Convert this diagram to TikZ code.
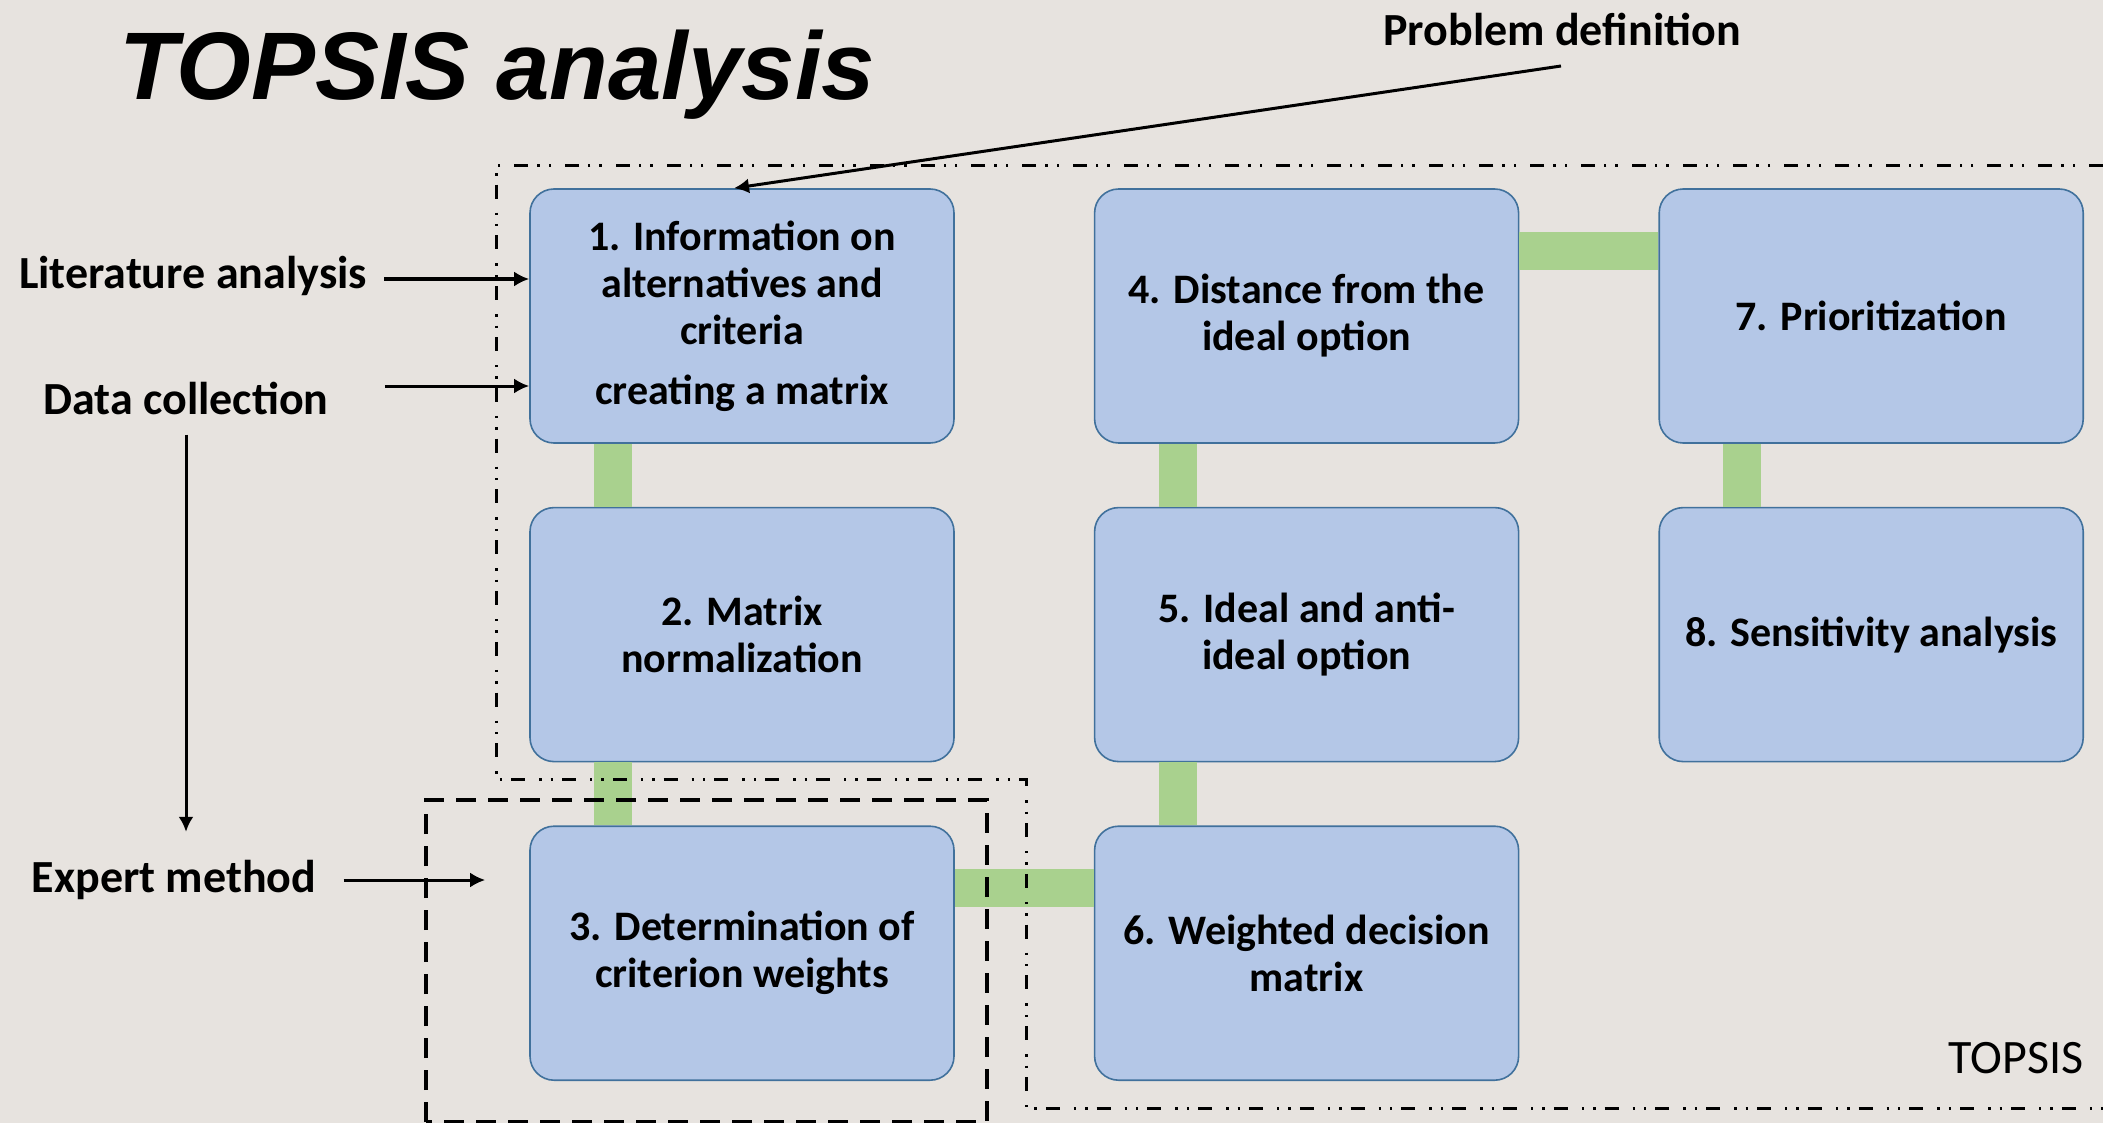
\documentclass[tikz,border=0pt]{standalone}
\usepackage{fontspec}
\setmainfont{Carlito}
\newfontfamily\titlefont{Liberation Sans}
\usepackage{tikz}
\usetikzlibrary{positioning, arrows.meta}
\usepackage{xcolor}
\definecolor{slidebg}{RGB}{231,227,223}
\definecolor{boxfill}{RGB}{180,199,231}
\definecolor{boxline}{RGB}{65,113,156}
\definecolor{linkgreen}{RGB}{169,209,142}

\begin{document}
\begin{tikzpicture}[x=0.5pt, y=-0.5pt,
		node distance=31.5pt and 69.5pt,
		stepbox/.style={draw=boxline, line width=0.8pt, fill=boxfill, rounded corners=12pt,
			minimum width=212pt, minimum height=127pt, inner sep=0pt, align=center,
			font=\fontsize{21}{23.5}\selectfont\bfseries},
		sidelabel/.style={inner sep=0pt, font=\fontsize{23}{27}\selectfont\bfseries},
		link/.style={draw=linkgreen, line width=19pt},
		arr/.style={-{Latex[length=7.5pt,width=7.5pt]}, line width=1.5pt}]
		\tikzstyle{topsisline}=[line width=1.5pt, dash pattern=on 7pt off 7pt on 1.2pt off 4.5pt on 1.2pt off 4.5pt]
		\tikzstyle{expertline}=[line width=1.7pt, dash pattern=on 10pt off 6pt]
		\fill[slidebg] (0,0) rectangle (2103,1123);
		\useasboundingbox (0,0) rectangle (2103,1123);
		\node[anchor=base west, inner sep=0pt, font=\titlefont\fontsize{48}{52}\selectfont\bfseries\itshape] (title) at (119,100) {TOPSIS analysis};
		\node[stepbox] (s1) at (742,316) {1. Information on\\alternatives and\\criteria\\[6.5pt]creating a matrix};
		\node[stepbox, below=of s1] (s2) {2. Matrix\\normalization};
		\node[stepbox, below=of s2] (s3) {3. Determination of\\criterion weights};
		\node[stepbox, right=of s1] (s4) {4. Distance from the\\ideal option};
		\node[stepbox, below=of s4] (s5) {5. Ideal and anti-\\ideal option};
		\node[stepbox, below=of s5] (s6) {6. Weighted decision\\matrix};
		\node[stepbox, right=of s4] (s7) {7. Prioritization};
		\node[stepbox, below=of s7] (s8) {8. Sensitivity analysis};
		\draw[link] ([xshift=42pt]s1.south west) -- ([xshift=42pt]s2.north west);
		\draw[link] ([xshift=42pt]s2.south west) -- ([xshift=42pt]s3.north west);
		\draw[link] ([xshift=42pt]s4.south west) -- ([xshift=42pt]s5.north west);
		\draw[link] ([xshift=42pt]s5.south west) -- ([xshift=42pt]s6.north west);
		\draw[link] ([xshift=42pt]s7.south west) -- ([xshift=42pt]s8.north west);
		\draw[link] ([yshift=-31.5pt]s4.north east) -- ([yshift=-31.5pt]s7.north west);
		\draw[link] ([yshift=-31.5pt]s3.north east) -- ([yshift=-31.5pt]s6.north west);
		\node[sidelabel] (prob) at (1562,30) {Problem definition};
		\node[sidelabel] (lit) at (193,276) {Literature analysis};
		\node[sidelabel] (data) at (186,398) {Data collection};
		\node[sidelabel] (expert) at (174,880) {Expert method};
		\node[inner sep=0pt, font=\fontsize{24}{28}\selectfont] (topsis) at (2016,1058) {TOPSIS};
		\coordinate (probout) at (1561,66);
		\coordinate (litin) at ([yshift=-1.5pt]lit.east);
		\coordinate (datain) at ([yshift=6pt]data.east);
		\draw[arr] (probout) -- ([xshift=-4pt]s1.north);
		\draw[arr, shorten <=8.5pt] (litin) -- (litin -| s1.west);
		\draw[arr, shorten <=28pt] (datain) -- (datain -| s1.west);
		\draw[arr, shorten <=10pt, shorten >=14pt] (data) -- (data |- expert.north);
		\draw[arr, shorten <=13.5pt, shorten >=22pt] (expert) -- (expert -| s3.west);
		\draw[topsisline] (2103,166) -- (496,166) -- (496,779) -- (1026,779) -- (1026,1108) -- (2103,1108);
		\draw[expertline] (426,1122) -- (426,800) -- (987,800) -- (987,1122) -- cycle;
\end{tikzpicture}
\end{document}
